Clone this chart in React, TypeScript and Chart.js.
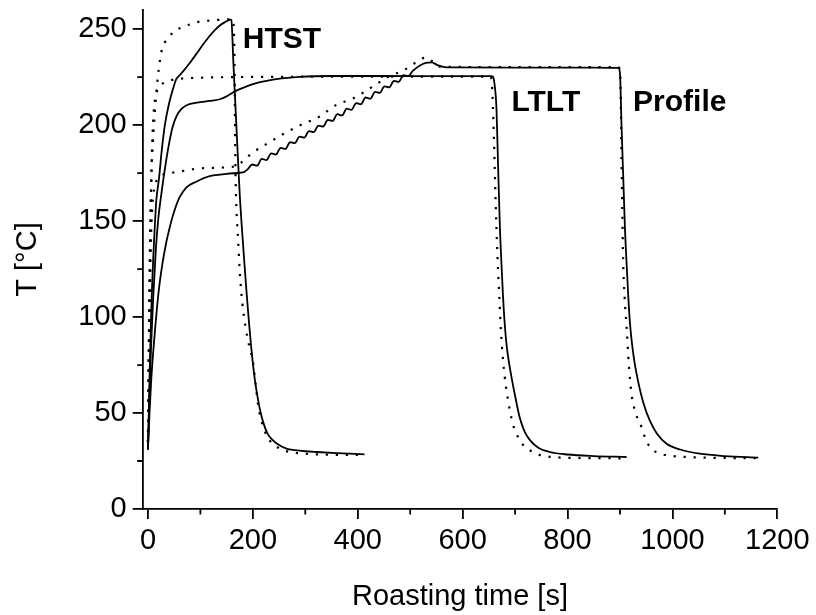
import React, { useEffect, useRef } from "react";
import { Chart, registerables } from "chart.js";

Chart.register(...registerables);

// ---- axis ticks ----
const xMajorTicks = [0, 200, 400, 600, 800, 1000, 1200];
const xMinorTicks = [100, 300, 500, 700, 900, 1100];
const yMajorTicks = [0, 50, 100, 150, 200, 250];
const yMinorTicks = [25, 75, 125, 175, 225];

// ---- HTST ----
const htstSolidTime = [0, 2, 4, 6, 8, 10, 13, 16, 21, 26, 32, 40, 47.7, 54, 57, 62, 67, 80, 92, 105, 118, 128, 137, 146, 153, 157, 159, 163, 167, 171, 175, 180, 185, 188, 193, 197, 200, 204, 208, 212, 216, 220, 228, 238.5, 250, 264, 280, 300, 321, 360, 413];
const htstSolidTemp = [31, 55, 80, 100, 117, 130, 147, 161, 172, 186, 199.6, 211, 218.8, 224, 225, 226.5, 228, 232.5, 237, 242, 246.6, 249.6, 251.9, 253.5, 254.5, 255, 254.8, 232, 209, 186, 164, 143, 124, 113, 96, 84, 76, 67, 60, 54, 49, 45, 39.3, 35.8, 33.3, 31.5, 30.7, 30.1, 29.7, 29.1, 28.5];

const htstModelTime = [0, 1.5, 3, 5, 7, 9.5, 13, 17, 21, 25.5, 32, 40, 51, 65, 80, 92, 110, 125, 143, 160, 163, 165, 166, 167, 169, 172, 175, 180, 186, 193, 200, 205, 210, 216, 222, 232, 251, 270, 300, 350, 413];
const htstModelTemp = [35, 80, 120, 155, 177, 191, 206, 220, 230, 238, 243, 246, 249, 251, 252.5, 253.6, 254.3, 254.7, 255, 255.2, 253, 235, 200, 175, 155, 140, 124, 107, 95, 85, 77, 66, 54, 46.5, 41, 35.8, 31.5, 29.7, 28.8, 28.3, 28.1];

// ---- LTLT ----
const ltltSolidTime = [0, 3, 6, 10, 15, 20, 25, 30, 35, 40, 47, 55, 64, 75, 86, 100, 118, 137, 150, 162, 175, 188, 205, 226, 255, 289, 350, 450, 550, 655, 658, 661, 664.6, 667.5, 671, 674, 677, 680.4, 684, 688, 693, 700, 709, 718, 728, 745, 766, 800, 850, 912.6];
const ltltSolidTemp = [31, 60, 85, 110, 135, 152, 163, 173, 182, 190, 199, 205, 208.5, 210.5, 211.4, 212, 212.6, 213.5, 215, 217, 218.8, 220.2, 221.8, 223.1, 224.4, 225.2, 225.6, 225.6, 225.5, 225.5, 225.2, 221, 208.3, 180, 147.3, 128, 111, 96, 85, 77, 69, 59, 47.5, 40.5, 36, 31.8, 29.7, 28.4, 27.6, 27.1];

const ltltModelTime = [0, 1.5, 3, 5, 7, 9.5, 12, 15, 20, 30, 45, 66, 100, 150, 250, 400, 550, 652, 655, 657, 660, 663, 666, 669.6, 673, 677, 683, 690, 696, 703, 715, 728, 745, 766, 800, 850, 909];
const ltltModelTemp = [35, 75, 110, 150, 180, 200, 210, 215.5, 219.5, 222, 223.5, 224.3, 224.7, 225, 225.2, 225.3, 225.3, 225.3, 224, 215, 190, 160, 135, 112.5, 93, 77.6, 63, 51.5, 44, 39, 33.5, 30.6, 28.3, 27.2, 26.7, 26.5, 26.4];

// ---- Profile ----
const profileSolidTime = [0, 3, 6, 9.5, 14, 18, 22, 28, 35, 40, 44.6, 50, 55, 60.5, 73, 92, 117.7, 150, 175, 183,
  190, 199, 208, 217, 226, 235, 244, 253, 262, 271, 280, 289, 298, 307, 316, 325, 334, 343, 352, 361, 370, 379, 388, 397, 406, 415, 424, 433, 442, 451, 460, 469, 478, 487, 496,
  505, 518, 530, 540.6, 552, 562.8, 580, 700, 850, 897, 900, 903, 906, 909.4, 913, 916, 919, 923, 928, 935, 945, 957, 970, 989, 1015, 1052, 1100, 1163.7];
const profileSolidTemp = [31, 50, 66, 80, 95, 107, 117, 128.5, 139, 145, 150, 155, 159, 162.5, 167.5, 170.5, 173.4, 174.6, 175.2, 175.5,
  177.0, 179.5, 178.9, 182.4, 181.8, 185.3, 184.7, 188.2, 187.6, 191.1, 190.6, 194.0, 193.5, 196.9, 196.4, 199.8, 199.3, 202.7, 202.2, 205.7, 205.1, 208.6, 208.0, 211.5, 210.9, 214.4, 213.8, 217.3, 216.8, 220.2, 219.7, 223.1, 222.6, 226.0, 225.5,
  228.3, 231, 232.4, 232.7, 231.3, 230.4, 230.1, 230, 230, 229.8, 227, 199.6, 175, 147, 126, 110, 97, 86, 76, 66, 55, 46, 39.5, 34, 31, 28.8, 27.6, 26.8];

const profileModelTime = [0, 1.5, 3, 5, 7, 10, 15, 25, 40, 54, 92, 130, 168, 180, 190, 200, 225, 262.7, 294.5, 327.5, 358, 391, 423, 454.8, 489.7, 510, 523.5, 532, 540.6, 550, 565, 650, 800, 897, 900, 901.5, 903, 904.5, 906, 909, 912.6, 917, 922, 930, 941, 948, 957, 970, 989, 1020, 1060, 1100, 1163];
const profileModelTemp = [35, 70, 100, 130, 150, 163, 170, 173.5, 175, 175.5, 177.3, 177.8, 178.7, 181, 183.5, 185.7, 190, 196.1, 200.5, 204.5, 210.4, 213.9, 219.1, 224.7, 228.9, 232.5, 234.8, 235.2, 233.6, 231, 230.4, 230.3, 230.3, 230.2, 228, 215, 182, 155, 130, 110, 95, 75, 60, 50, 42.8, 37, 32.3, 29.5, 28, 27.2, 26.8, 26.6, 26.5];

// ---- curve labels ----
const curveLabels = ["HTST", "LTLT", "Profile"];
const curveLabelTime = [181, 693, 925];
const curveLabelTemp = [240, 207.4, 207.4];

const FONT = "'Liberation Sans', Arial, Helvetica, sans-serif";

function zip(t: number[], v: number[]) {
  return t.map((x, i) => ({ x, y: v[i] }));
}

function solid(data: { x: number; y: number }[]) {
  return {
    data,
    borderColor: "#000",
    borderWidth: 1.8,
    pointRadius: 0,
    fill: false,
    cubicInterpolationMode: "monotone" as const,
  };
}

function dotted(data: { x: number; y: number }[]) {
  return {
    data,
    borderColor: "#000",
    borderWidth: 2.2,
    borderDash: [2.2, 7.8],
    borderCapStyle: "butt" as const,
    pointRadius: 0,
    fill: false,
    cubicInterpolationMode: "monotone" as const,
  };
}

const extrasPlugin = {
  id: "extras",
  afterDraw(chart: any) {
    const ctx = chart.ctx;
    const xs = chart.scales.x;
    const ys = chart.scales.y;
    ctx.save();
    ctx.strokeStyle = "#000";
    ctx.lineWidth = 1.8;
    ctx.beginPath();
    for (const v of xMinorTicks) {
      const px = xs.getPixelForValue(v);
      ctx.moveTo(px, xs.top);
      ctx.lineTo(px, xs.top + 5.5);
    }
    for (const v of yMinorTicks) {
      const py = ys.getPixelForValue(v);
      ctx.moveTo(ys.right, py);
      ctx.lineTo(ys.right - 5.5, py);
    }
    ctx.stroke();
    ctx.fillStyle = "#000";
    ctx.font = `bold 30px ${FONT}`;
    ctx.textAlign = "left";
    ctx.textBaseline = "alphabetic";
    curveLabels.forEach((txt, i) => {
      ctx.fillText(txt, xs.getPixelForValue(curveLabelTime[i]), ys.getPixelForValue(curveLabelTemp[i]));
    });
    ctx.restore();
  },
};

export default function App() {
  const canvasRef = useRef<HTMLCanvasElement | null>(null);

  useEffect(() => {
    if (!canvasRef.current) return;
    const chart = new Chart(canvasRef.current, {
      type: "line",
      data: {
        datasets: [
          solid(zip(htstSolidTime, htstSolidTemp)),
          dotted(zip(htstModelTime, htstModelTemp)),
          solid(zip(ltltSolidTime, ltltSolidTemp)),
          dotted(zip(ltltModelTime, ltltModelTemp)),
          solid(zip(profileSolidTime, profileSolidTemp)),
          dotted(zip(profileModelTime, profileModelTemp)),
        ] as any,
      },
      options: {
        responsive: false,
        animation: false,
        devicePixelRatio: 1,
        layout: { padding: { top: 10, right: 38.7, bottom: 0, left: 0 } },
        plugins: { legend: { display: false }, tooltip: { enabled: false } },
        scales: {
          x: {
            type: "linear",
            min: -10,
            max: 1200,
            afterBuildTicks: (s: any) => {
              s.ticks = xMajorTicks.map((v) => ({ value: v }));
            },
            afterFit: (s: any) => {
              s.height = 106;
              s.paddingLeft = 0;
              s.paddingRight = 0;
            },
            grid: { display: true, drawOnChartArea: false, drawTicks: true, tickLength: 10, color: "#000", lineWidth: 1.8 },
            border: { display: true, color: "#000", width: 1.8 },
            ticks: {
              color: "#000",
              font: { family: FONT, size: 29 },
              padding: 5,
              maxRotation: 0,
              autoSkip: false,
              callback: (v: any) => String(v),
            },
            title: { display: true, text: "Roasting time [s]", color: "#000", font: { family: FONT, size: 29 }, padding: { top: 0, bottom: 1 } },
          },
          y: {
            type: "linear",
            min: 0,
            max: 260,
            afterBuildTicks: (s: any) => {
              s.ticks = yMajorTicks.map((v) => ({ value: v }));
            },
            afterFit: (s: any) => {
              s.width = 142.7;
              s.paddingTop = 0;
              s.paddingBottom = 0;
            },
            grid: { display: true, drawOnChartArea: false, drawTicks: true, tickLength: 10, color: "#000", lineWidth: 1.8 },
            border: { display: true, color: "#000", width: 1.8 },
            ticks: { color: "#000", font: { family: FONT, size: 29 }, padding: 6, autoSkip: false, callback: (v: any) => String(v) },
            title: { display: true, text: "T [°C]", color: "#000", font: { family: FONT, size: 29 }, padding: { top: 11, bottom: 0 } },
          },
        },
      } as any,
      plugins: [extrasPlugin],
    });
    return () => chart.destroy();
  }, []);

  return (
    <div style={{ position: "absolute", left: 0, top: 0, width: 816, height: 615, background: "#fff" }}>
      <canvas ref={canvasRef} width={816} height={615} style={{ display: "block" }} />
    </div>
  );
}
